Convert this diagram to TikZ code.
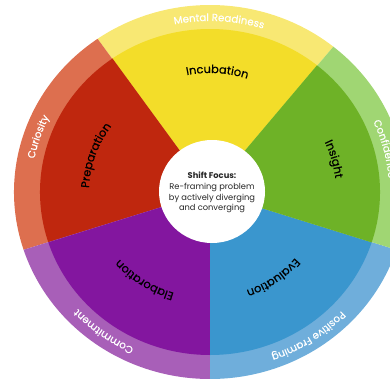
\documentclass[tikz,border=0pt]{standalone}
\usepackage{fontspec}
\setmainfont{Poppins}
\newfontfamily\lab{Poppins}[FakeBold=0.35]
\usetikzlibrary{decorations.text}
\definecolor{yelD}{HTML}{F3DD29}\definecolor{yelL}{HTML}{F8E873}
\definecolor{redD}{HTML}{BF270E}\definecolor{redL}{HTML}{DD6F4F}
\definecolor{grnD}{HTML}{6EB227}\definecolor{grnL}{HTML}{A0D673}
\definecolor{purD}{HTML}{83169F}\definecolor{purL}{HTML}{A85FB8}
\definecolor{bluD}{HTML}{3A96CE}\definecolor{bluL}{HTML}{6FAEDB}
\newcommand{\sect}[4]{% start, end, dark, light
  \fill[#4] (210,186) -- ({210+196*cos(#1)},{186+187*sin(#1)}) arc[start angle=#1,end angle=#2,x radius=196,y radius=187] -- cycle;
  \fill[#3] (210,186) -- ({210+170*cos(#1)},{186+163*sin(#1)}) arc[start angle=#1,end angle=#2,x radius=170,y radius=163] -- cycle;
}
\newcommand{\curv}[6]{% mid angle, rx, ry, colour, size, text
  \path[decorate,decoration={text along path,text align=center,text color=#4,text={|\lab\fontsize{#5}{#5}\selectfont|#6}}]
    ({210+#2*cos(#1+60)},{186+#3*sin(#1+60)}) arc[start angle=#1+60,end angle=#1-60,x radius=#2,y radius=#3];
}
\begin{document}
\begin{tikzpicture}[x=1pt,y=1pt]
\useasboundingbox (0,0) rectangle (390,378);
\clip (0,0) rectangle (390,378);
\sect{51}{125}{yelD}{yelL}
\sect{125}{198}{redD}{redL}
\sect{198}{270}{purD}{purL}
\sect{270}{342}{bluD}{bluL}
\sect{342}{411}{grnD}{grnL}
\curv{86.5}{121}{119}{black}{11.4}{Incubation}
\curv{162}{121}{113}{black}{11.4}{Preparation}
\curv{15}{126}{120}{black}{11.4}{Insight}
\curv{234}{117}{106}{black}{11.4}{Elaboration}
\curv{306}{110}{104}{black}{11.4}{Evaluation}
\curv{87}{179}{171}{white}{10.2}{Mental Readiness}
\curv{162}{179}{171}{white}{10.2}{Curiosity}
\curv{14}{179}{171}{white}{10.2}{Confidence}
\curv{233}{180}{172}{white}{10.2}{Commitment}
\curv{304}{181}{173}{white}{10.2}{Positive Framing}
\fill[white] (212,186.5) ellipse [x radius=53,y radius=51.5];
\node[align=center,font=\fontsize{8.3}{10.8}\selectfont,text=black!85] (focus) at (212,185.5)
  {\textbf{Shift Focus:}\\Re-framing problem\\by actively diverging\\and converging};
\end{tikzpicture}
\end{document}
